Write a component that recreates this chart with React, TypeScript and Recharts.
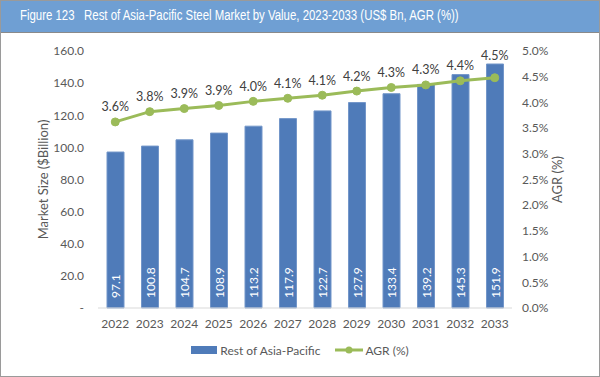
import React from 'react';
import { ComposedChart, Bar, Line, XAxis, YAxis, Legend, LabelList } from 'recharts';

const years = ['2022', '2023', '2024', '2025', '2026', '2027', '2028', '2029', '2030', '2031', '2032', '2033'];
const marketSize = [97.1, 100.8, 104.7, 108.9, 113.2, 117.9, 122.7, 127.9, 133.4, 139.2, 145.3, 151.9];
const agr = [3.62, 3.82, 3.88, 3.94, 4.02, 4.08, 4.14, 4.22, 4.29, 4.34, 4.42, 4.48];
const leftTicks = [0, 20, 40, 60, 80, 100, 120, 140, 160];
const rightTicks = [0, 0.5, 1, 1.5, 2, 2.5, 3, 3.5, 4, 4.5, 5];

const data = years.map((y, i) => ({ year: y, value: marketSize[i], agr: agr[i] }));

const FONT = 'Lato, "Noto Sans", sans-serif';
const BAR = '#4f7bb9';
const GREEN = '#9bbb59';
const TICK = '#595959';

const BarLabel = (props: any) => {
  const { x, y, width, height, value } = props;
  const cx = x + width / 2;
  const by = y + height - 10;
  return (
    <text x={cx} y={by} transform={`rotate(-90 ${cx} ${by})`} textAnchor="start" dominantBaseline="central"
      fill="#ffffff" fontSize={12} fontFamily={FONT}>
      {Number(value).toFixed(1)}
    </text>
  );
};

const LineLabel = (props: any) => {
  const { x, y, value, index } = props;
  // keep label clear of the bar top (bar top derived from the left scale: plot spans 257px for 160)
  const barTop = 275 - (marketSize[index] / 160) * 257;
  const ly = Math.min(y - 15, barTop - 9);
  return (
    <text x={x} y={ly} textAnchor="middle" dominantBaseline="central" fill="#404040" fontSize={12.5} fontFamily={FONT}>
      {Number(value).toFixed(1)}%
    </text>
  );
};

const LegendContent = () => (
  <div style={{ display: 'flex', justifyContent: 'center', alignItems: 'center', height: 24, fontFamily: FONT, fontSize: 12, color: TICK }}>
    <svg width={26} height={10} style={{ marginRight: 3 }}>
      <rect x={0} y={1} width={26} height={8} fill={BAR} />
    </svg>
    <span style={{ marginRight: 15 }}>Rest of Asia-Pacific</span>
    <svg width={28} height={10} style={{ marginRight: 2 }}>
      <line x1={0} y1={5} x2={28} y2={5} stroke={GREEN} strokeWidth={3} />
      <circle cx={14} cy={5} r={3.5} fill={GREEN} />
    </svg>
    <span>AGR (%)</span>
  </div>
);

export default function App() {
  return (
    <div style={{ position: 'absolute', top: 0, left: 0, width: 600, height: 377, background: '#fff', overflow: 'hidden' }}>
      <div style={{ position: 'absolute', top: 0, left: 0, width: 600, height: 33, boxSizing: 'border-box', background: '#6f9fd3', borderBottom: '1px solid #8a8a8a' }}>
        <div style={{ position: 'absolute', left: 20, top: 0, height: 32, lineHeight: '31px', color: '#fff', fontFamily: '"Liberation Sans", Arial, sans-serif', fontSize: 14, whiteSpace: 'pre', transform: 'scaleX(0.815)', transformOrigin: 'left center' }}>
          {'Figure 123   Rest of Asia-Pacific Steel Market by Value, 2023-2033 (US$ Bn, AGR (%))'}
        </div>
      </div>
      <div style={{ position: 'absolute', top: 33, left: 0 }}>
        <ComposedChart width={600} height={344} data={data} margin={{ top: 18, right: 0, left: 0, bottom: 15 }} barSize={17}>
          <XAxis dataKey="year" tickLine={false} axisLine={{ stroke: '#d9d9d9' }} height={30} tickSize={0} tickMargin={11}
            tick={{ fill: TICK, fontSize: 12, fontFamily: FONT }} interval={0} />
          <YAxis yAxisId="left" orientation="left" width={98} domain={[0, 160]} ticks={leftTicks} axisLine={false} tickLine={false}
            tickSize={0} tickMargin={14} tick={{ fill: TICK, fontSize: 12, fontFamily: FONT }}
            tickFormatter={(v: number) => (v === 0 ? '-' : v.toFixed(1))}
            label={{
              content: (p: any) => {
                const vb = p.viewBox || {};
                const cy = vb.y + vb.height / 2;
                return (
                  <text x={43} y={cy} transform={`rotate(-90 43 ${cy})`} textAnchor="middle" dominantBaseline="central"
                    fill={TICK} fontSize={13} fontFamily={FONT}>Market Size ($Billion)</text>
                );
              },
            }} />
          <YAxis yAxisId="right" orientation="right" width={88} domain={[0, 5]} ticks={rightTicks} axisLine={false} tickLine={false}
            tickSize={0} tickMargin={10} tick={{ fill: TICK, fontSize: 12, fontFamily: FONT }}
            tickFormatter={(v: number) => v.toFixed(1) + '%'}
            label={{
              content: (p: any) => {
                const vb = p.viewBox || {};
                const cy = vb.y + vb.height / 2;
                return (
                  <text x={557} y={cy} transform={`rotate(-90 557 ${cy})`} textAnchor="middle" dominantBaseline="central"
                    fill={TICK} fontSize={13} fontFamily={FONT}>AGR (%)</text>
                );
              },
            }} />
          <Legend verticalAlign="bottom" height={24} content={<LegendContent />} />
          <Bar yAxisId="left" dataKey="value" name="Rest of Asia-Pacific" fill={BAR} stroke="#7396c9" strokeWidth={1} isAnimationActive={false}>
            <LabelList dataKey="value" content={<BarLabel />} />
          </Bar>
          <Line yAxisId="right" dataKey="agr" name="AGR (%)" stroke={GREEN} strokeWidth={3} isAnimationActive={false}
            dot={{ r: 4, fill: GREEN, stroke: GREEN, strokeWidth: 1 }}>
            <LabelList dataKey="agr" content={<LineLabel />} />
          </Line>
        </ComposedChart>
      </div>
      <div style={{ position: 'absolute', top: 0, left: 0, width: 600, height: 377, boxSizing: 'border-box', border: '1px solid #9a9a9a', pointerEvents: 'none' }} />
    </div>
  );
}
